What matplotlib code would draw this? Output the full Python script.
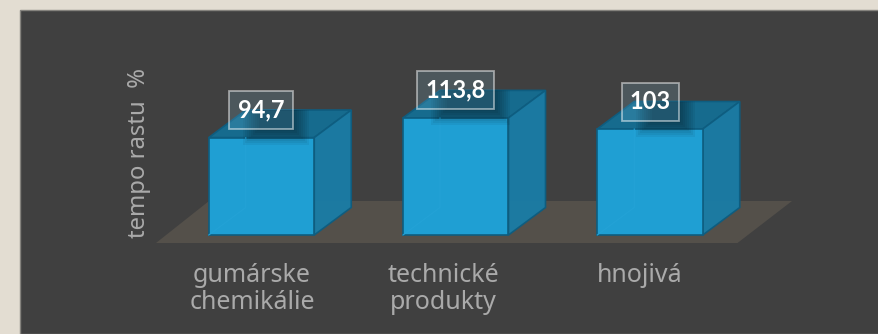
#!/usr/bin/env python3

import matplotlib
matplotlib.use('Agg')
import matplotlib.pyplot as plt
from matplotlib.patches import Polygon, Rectangle

# Values
categories = ['gumárske\nchemikálie', 'technické\nprodukty', 'hnojivá']
growth_values = [94.7, 113.8, 103]
value_labels = ['94,7', '113,8', '103']
y_label = 'tempo rastu  %'

# Layout of the picture, in pixels
FIG_W, FIG_H = 879, 334
BAR_STEP = 194.25
FIRST_BAR = 261.5
BASE_Y = 235.0
PX_PER_UNIT = 1.029
BAR_W = 105.5 / BAR_STEP
DEPTH_X = 37.0 / BAR_STEP
DEPTH_Y = 27.5 / PX_PER_UNIT
# Centres of the category labels, they do not line up with the bars
LABEL_X = [252, 443, 640]

FONT = ['Noto Sans', 'DejaVu Sans']
FRONT = '#1f9fd3'
SIDE = '#1a7ca5'
TOP = '#166b8e'
EDGE = '#0e5d80'
TEXT = '#aaaaaa'

fig = plt.figure(figsize=(FIG_W / 100, FIG_H / 100), dpi=100, facecolor='#e3ddd2')
# The axes fill the figure, x is the category index and y is the value
ax = fig.add_axes([0, 0, 1, 1])
ax.set_xlim(-FIRST_BAR / BAR_STEP, (FIG_W - FIRST_BAR) / BAR_STEP)
ax.set_ylim(-(FIG_H - BASE_Y) / PX_PER_UNIT, BASE_Y / PX_PER_UNIT)
ax.axis('off')


def px(x, y):
    # Pixel position in the picture to data position
    return (x - FIRST_BAR) / BAR_STEP, (BASE_Y - y) / PX_PER_UNIT


def add_poly(points, **style):
    ax.add_patch(Polygon([px(*p) for p in points], closed=True, **style))


# Dark panel and its thin border
add_poly([(20, 10), (879, 10), (879, 334), (20, 334)], facecolor='#404040',
         edgecolor='#85837e', linewidth=1.0, zorder=1)
# Floor under the bars
add_poly([(156, 243), (737.5, 243), (792, 201), (209, 201)], facecolor='#54504a',
         edgecolor='none', zorder=2)

for i, value in enumerate(growth_values):
    left, right = i - BAR_W / 2, i + BAR_W / 2
    top_face = [(left, value), (right, value), (right + DEPTH_X, value + DEPTH_Y),
                (left + DEPTH_X, value + DEPTH_Y)]
    side_face = [(right, 0), (right + DEPTH_X, DEPTH_Y), (right + DEPTH_X, value + DEPTH_Y),
                 (right, value)]
    ax.add_patch(Polygon(top_face, facecolor=TOP, edgecolor=EDGE, linewidth=1.2, zorder=3))
    ax.add_patch(Polygon(side_face, facecolor=SIDE, edgecolor=EDGE, alpha=0.97,
                         linewidth=1.2, zorder=3))
    ax.bar(i, value, width=BAR_W, color=FRONT, edgecolor=EDGE, linewidth=1.2, zorder=4)
    # Back edges show faintly through the front face
    ax.plot([left, left + DEPTH_X, left + DEPTH_X], [0, DEPTH_Y, value], color='#23a2d6',
            linewidth=0.8, zorder=5)

    # Label box centred above the rear edge of the top face
    box_w = {4: 64, 5: 77, 3: 57}[len(value_labels[i])] / BAR_STEP
    box_h = 38 / PX_PER_UNIT
    box_y = value + DEPTH_Y
    box_left = i - box_w / 2
    box_low = box_y - box_h / 2

    # Soft shadow of the box, only visible on the bar itself
    silhouette = Polygon([(left, 0), (right, 0), (right + DEPTH_X, DEPTH_Y),
                          (right + DEPTH_X, value + DEPTH_Y), (left + DEPTH_X, value + DEPTH_Y),
                          (left, value)], transform=ax.transData)
    for grow in range(0, 17, 2):
        shadow_left = box_left + (30 - grow) / BAR_STEP
        shadow_right = box_left + box_w + grow / BAR_STEP
        shadow_low = box_low - grow / PX_PER_UNIT
        shadow = Rectangle((shadow_left, shadow_low), shadow_right - shadow_left,
                           box_h + grow / PX_PER_UNIT, facecolor='black', edgecolor='none',
                           alpha=0.05, zorder=6)
        ax.add_patch(shadow)
        shadow.set_clip_path(silhouette)

    ax.add_patch(Rectangle((box_left, box_low), box_w, box_h,
                           facecolor=(0.55, 0.8, 0.92, 0.17), edgecolor=(1, 1, 1, 0.5),
                           linewidth=1.3, zorder=7))
    ax.text(i, box_y, value_labels[i], color='white', fontsize=17, fontweight='bold',
            family=['Lato', 'DejaVu Sans'], ha='center', va='center', zorder=8)

for name, label_x in zip(categories, LABEL_X):
    x, y = px(label_x, 263)
    ax.text(x, y, name, color=TEXT, fontsize=18, family=FONT,
            ha='center', va='top', linespacing=1.13, zorder=8)

x, y = px(139, 238)
ax.text(x, y, y_label, color=TEXT, fontsize=17.2, family=FONT,
        rotation=90, ha='center', va='bottom', zorder=8)

fig.savefig('out.png', dpi=100, facecolor=fig.get_facecolor())
